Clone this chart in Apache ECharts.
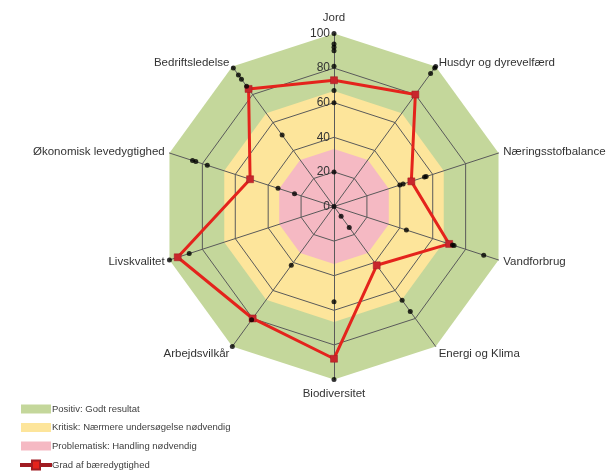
<!DOCTYPE html>
<html>
<head>
<meta charset="utf-8">
<script src="https://cdn.jsdelivr.net/npm/echarts@6/dist/echarts.min.js"></script>
<style>
	html, body { margin: 0; padding: 0; background: #fff; }
	#chart { width: 610px; height: 473px; }
</style>
</head>
<body>
<div id="chart"></div>
<script>
	// akser i ECharts-rækkefølge: fra toppen og mod uret
	const indicatorNames = ['Jord', 'Bedriftsledelse', 'Økonomisk levedygtighed', 'Livskvalitet', 'Arbejdsvilkår',
		'Biodiversitet', 'Energi og Klima', 'Vandforbrug', 'Næringsstofbalance', 'Husdyr og dyrevelfærd']
	// Grad af bæredygtighed (rød linje)
	const gradValues = [73, 84, 51, 95, 80, 88, 42, 70, 47, 80]
	// enkelt-indikatorer (sorte prikker), en liste pr. akse
	const subScores = [
		[100, 94, 92, 90, 81, 67, 60, 20, 0],
		[99, 94, 91, 86, 51],
		[86, 84, 77, 34, 24],
		[100, 88],
		[100, 81, 42],
		[100, 55],
		[75, 67, 15, 7],
		[91, 73, 72, 44],
		[56, 55, 42, 40],
		[100, 99, 95]
	]
	// baggrundszoner
	const bandNames = ['Positiv: Godt resultat', 'Kritisk: Nærmere undersøgelse nødvendig', 'Problematisk: Handling nødvendig']
	const bandLimits = [100, 66.7, 33.3]
	const bandColors = ['#c4d79b', '#fde59b', '#f5b9c3']
	const lineName = 'Grad af bæredygtighed'

	const center = [334, 206.5]
	const radius = 173
	const font = 'Liberation Sans'

	// små lodrette justeringer af aksenavne
	const nameShift = { 'Jord': 'up', 'Biodiversitet': 'down', 'Energi og Klima': 'low', 'Arbejdsvilkår': 'low' }

	const chart = echarts.init(document.getElementById('chart'))

	const series = bandNames.map((name, i) => ({
		type: 'radar',
		radarIndex: 0,
		name: name,
		z: 1,
		symbol: 'none',
		silent: true,
		lineStyle: { width: 0 },
		areaStyle: { color: bandColors[i], opacity: 1 },
		itemStyle: { color: bandColors[i] },
		data: [{ name: name, value: indicatorNames.map(() => bandLimits[i]) }]
	}))

	series.push({
		type: 'radar',
		radarIndex: 1,
		name: lineName,
		z: 4,
		symbol: 'rect',
		symbolSize: 7,
		itemStyle: { color: '#c8262c', borderColor: '#a01c22', borderWidth: 0.5 },
		lineStyle: { color: '#e4231c', width: 3 },
		data: [{ name: lineName, value: gradValues }]
	})

	// prikker: [radius, akse]
	const dots = []
	subScores.forEach((arr, i) => arr.forEach(v => dots.push([v, indicatorNames[i]])))
	series.push({
		type: 'scatter',
		coordinateSystem: 'polar',
		polarIndex: 0,
		z: 6,
		symbolSize: 5,
		itemStyle: { color: '#000' },
		silent: true,
		data: dots
	})

	const option = {
		animation: false,
		legend: {
			orient: 'vertical',
			left: 20,
			top: 404,
			padding: 0,
			itemWidth: 30,
			itemHeight: 9,
			itemGap: 8.5,
			textStyle: { fontFamily: font, fontSize: 9.5, lineHeight: 10, color: '#404040', padding: [0, 0, 0, -4] },
			data: [
				{ name: bandNames[0], icon: 'rect' },
				{ name: bandNames[1], icon: 'rect' },
				{ name: bandNames[2], icon: 'rect' },
				{ name: lineName, icon: 'path://M0,3.5H11V0H19V3.5H30V5.5H19V9H11V5.5H0Z', itemStyle: { color: '#e4231c' } }
			]
		},
		polar: { center: center, radius: radius },
		angleAxis: {
			type: 'category',
			data: indicatorNames,
			startAngle: 90,
			clockwise: false,
			boundaryGap: false,
			show: false
		},
		radiusAxis: { min: 0, max: 100, show: false },
		radar: [{
			center: center,
			radius: radius,
			startAngle: 90,
			shape: 'polygon',
			splitNumber: 3,
			z: 0,
			indicator: indicatorNames.map(n => ({ name: n, min: 0, max: 100 })),
			axisName: { show: false },
			axisLine: { show: false },
			splitLine: { show: false },
			splitArea: { show: false }
		}, {
			center: center,
			radius: radius,
			startAngle: 90,
			shape: 'polygon',
			splitNumber: 5,
			z: 3,
			nameGap: 5,
			indicator: indicatorNames.map((n, i) => ({
				name: n, min: 0, max: 100,
				axisLabel: { show: i === 0 }
			})),
			axisName: {
				color: '#333', fontSize: 11.5, fontFamily: font,
				formatter: (name) => nameShift[name] ? '{' + nameShift[name] + '|' + name + '}' : name,
				rich: {
					up: { padding: [0, 0, 5, 0] },
					down: { padding: [3, 0, 0, 0] },
					low: { padding: [6, 0, 0, 0] }
				}
			},
			axisLine: { lineStyle: { color: '#5a5a5a', width: 1 } },
			axisLabel: { show: false, color: '#333', fontSize: 12, fontFamily: font, margin: 4 },
			splitLine: {
				lineStyle: {
					color: ['#5a5a5a', '#5a5a5a', '#5a5a5a', '#5a5a5a', '#5a5a5a', 'rgba(0,0,0,0)'],
					width: 1
				}
			},
			splitArea: { show: false }
		}],
		series: series
	}

	chart.setOption(option)
</script>
</body>
</html>
